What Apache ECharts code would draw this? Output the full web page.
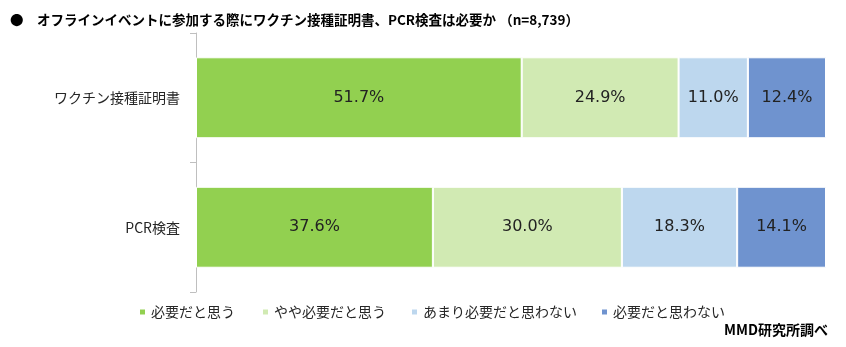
<!DOCTYPE html>
<html>
<head>
<meta charset="utf-8">
<script src="https://cdn.jsdelivr.net/npm/echarts@6/dist/echarts.min.js"></script>
<style>
html,body{margin:0;padding:0;background:#fff;}
#main{width:846px;height:347px;}
</style>
</head>
<body>
<div id="main"></div>
<script>
var categories = ['ワクチン接種証明書', 'PCR検査'];
var seriesNames = ['必要だと思う', 'やや必要だと思う', 'あまり必要だと思わない', '必要だと思わない'];
var valsNeed = [51.7, 37.6];
var valsSomewhat = [24.9, 30.0];
var valsNotMuch = [11.0, 18.3];
var valsNot = [12.4, 14.1];
var colors = ['#92D050', '#D1EAB3', '#BDD7EE', '#6F93CF'];
var legendLefts = [138, 261, 410, 600];

var FONT = '"Noto Sans CJK JP", "Noto Sans", sans-serif';
var chart = echarts.init(document.getElementById('main'));
var allVals = [valsNeed, valsSomewhat, valsNotMuch, valsNot];

var series = seriesNames.map(function (n, i) {
  return {
    name: n,
    type: 'bar',
    stack: 'total',
    barWidth: '62.5%',
    data: allVals[i],
    itemStyle: { color: colors[i], borderColor: '#fff', borderWidth: 1 },
    label: {
      show: true,
      position: 'inside',
      formatter: function (p) { return p.value.toFixed(1) + '%'; },
      color: '#222',
      fontSize: 16,
      fontFamily: '"DejaVu Sans", Verdana, sans-serif'
    }
  };
});

var legends = seriesNames.map(function (n, i) {
  return {
    data: [n],
    left: legendLefts[i],
    top: 305,
    itemWidth: 7,
    itemHeight: 7,
    itemGap: 0,
    icon: 'rect',
    padding: 0,
    textStyle: { fontSize: 14, color: '#262626', fontFamily: FONT },
    selectedMode: false
  };
});

chart.setOption({
  animation: false,
  textStyle: { fontFamily: FONT },
  title: [{
    text: '●　オフラインイベントに参加する際にワクチン接種証明書、PCR検査は必要か （n=8,739）',
    left: 10,
    top: 13,
    padding: 0,
    textStyle: { fontSize: 13.5, fontWeight: 'bold', color: '#000', fontFamily: FONT }
  }],
  graphic: [{
    type: 'text',
    right: 18,
    top: 323,
    style: { text: 'MMD研究所調べ', fill: '#000', font: 'bold 14px ' + FONT }
  }],
  legend: legends,
  grid: { left: 196, right: 20, top: 33, bottom: 55 },
  xAxis: { type: 'value', min: 0, max: 100, show: false },
  yAxis: {
    type: 'category',
    data: categories,
    inverse: true,
    axisLine: { show: true, lineStyle: { color: '#BFBFBF', width: 1 } },
    axisTick: { show: true, length: 6, lineStyle: { color: '#BFBFBF' } },
    axisLabel: { margin: 16, fontSize: 14, color: '#262626', fontFamily: FONT }
  },
  series: series
});
</script>
</body>
</html>
